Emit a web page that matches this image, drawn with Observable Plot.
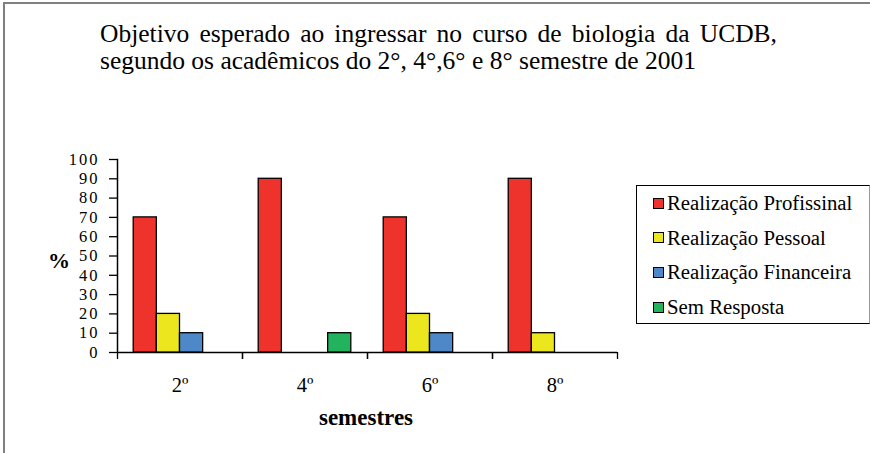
<!DOCTYPE html>
<html><head><meta charset="utf-8">
<script src="https://cdn.jsdelivr.net/npm/d3@7"></script>
<script src="https://cdn.jsdelivr.net/npm/@observablehq/plot@0.6"></script>
<style>
body{margin:0;background:#fff;}
#wrap{position:relative;width:870px;height:453px;overflow:hidden;font-family:'Liberation Serif',serif;color:#000;background:#fff;}
#wrap svg text{font-family:'Liberation Serif',serif;}
#wrap svg g[aria-label="y-axis tick label"]{letter-spacing:2px;}
#border{position:absolute;left:3px;top:2px;width:900px;height:500px;border-top:2px solid #808080;border-left:2px solid #808080;}
#chart{position:absolute;left:0;top:0;}
#title{position:absolute;left:100px;top:20px;width:677px;font-size:25.5px;line-height:27px;}
#title .l1{text-align:justify;text-align-last:justify;white-space:nowrap;}
#pct{position:absolute;left:48px;top:248px;font-size:22px;font-weight:bold;}
#xlab{position:absolute;left:266px;width:200px;text-align:center;top:405px;font-size:23px;font-weight:bold;}
#legend{position:absolute;left:636px;top:185px;width:232px;height:137px;border:1px solid #000;border-right-color:#999;}
.item{position:absolute;left:16px;height:22px;line-height:22px;font-size:20.8px;white-space:nowrap;}
.sw{display:inline-block;width:9px;height:9px;border:1px solid #000;margin-right:3px;vertical-align:middle;position:relative;top:-2px;}
</style></head><body>
<div id="wrap">
  <div id="border"></div>
  <div id="title"><div class="l1">Objetivo esperado ao ingressar no curso de biologia da UCDB,</div><div class="l2">segundo os acadêmicos do 2°, 4°,6° e 8° semestre de 2001</div></div>
  <div id="chart"></div>
  <div id="pct">%</div>
  <div id="xlab">semestres</div>
  <div id="legend"></div>
</div>
<script>
const semestres = ["2º", "4º", "6º", "8º"];
const series = ["Realização Profissinal", "Realização Pessoal", "Realização Financeira", "Sem Resposta"];
const colors = ["#ee332d", "#ece61f", "#4f88c8", "#22b35c"];
const profissional = [70, 90, 70, 90];
const pessoal = [20, 0, 20, 10];
const financeira = [10, 0, 10, 0];
const semResposta = [0, 10, 0, 0];
const yTicks = [0, 10, 20, 30, 40, 50, 60, 70, 80, 90, 100];

const valuesBySeries = [profissional, pessoal, financeira, semResposta];
const rows = [];
semestres.forEach((s, i) => {
  series.forEach((name, j) => {
    const v = valuesBySeries[j][i];
    if (v > 0) rows.push({sem: s, serie: name, valor: v});
  });
});

const W = 870, H = 453, ML = 117, MR = 253, MT = 159, MB = 101;
const bw = (W - ML - MR) / semestres.length;

const chart = Plot.plot({
  width: W, height: H,
  marginLeft: ML, marginRight: MR, marginTop: MT, marginBottom: MB,
  style: {fontFamily: "'Liberation Serif', serif", fontSize: "20.5px", color: "#000", background: "transparent", overflow: "visible"},
  fx: {domain: semestres, padding: 0, round: false},
  x: {domain: series, paddingInner: 0, paddingOuter: 0.7, round: false, axis: null},
  y: {domain: [0, 100]},
  color: {domain: series, range: colors},
  marks: [
    Plot.axisY({ticks: yTicks, tickSize: 8, tickPadding: 10, fontSize: 16.5, label: null, stroke: "#000", strokeWidth: 1.3, strokeOpacity: 1}),
    Plot.frame({anchor: "left", facetAnchor: "left", stroke: "#000", strokeWidth: 1.5}),
    Plot.ruleY([0], {stroke: "#000", strokeWidth: 1.5}),
    Plot.barY(rows, {fx: "sem", x: "serie", y: "valor", fill: "serie", stroke: "#000", strokeWidth: 1.3}),
    Plot.axisFx({anchor: "bottom", tickSize: 0, tickPadding: 25, label: null}),
    Plot.axisFx({anchor: "bottom", text: null, tickSize: 7, dx: -bw / 2, label: null, strokeWidth: 1.3, strokeOpacity: 1}),
    Plot.axisFx({anchor: "bottom", text: null, tickSize: 7, dx: bw / 2, label: null, strokeWidth: 1.3, strokeOpacity: 1})
  ]
});
document.getElementById("chart").append(chart);

const legend = document.getElementById("legend");
series.forEach((name, j) => {
  const it = document.createElement("div");
  it.className = "item";
  it.style.top = (6 + j * 34.7) + "px";
  const sw = document.createElement("span");
  sw.className = "sw";
  sw.style.background = colors[j];
  it.append(sw, document.createTextNode(name));
  legend.append(it);
});
</script>
</body></html>
